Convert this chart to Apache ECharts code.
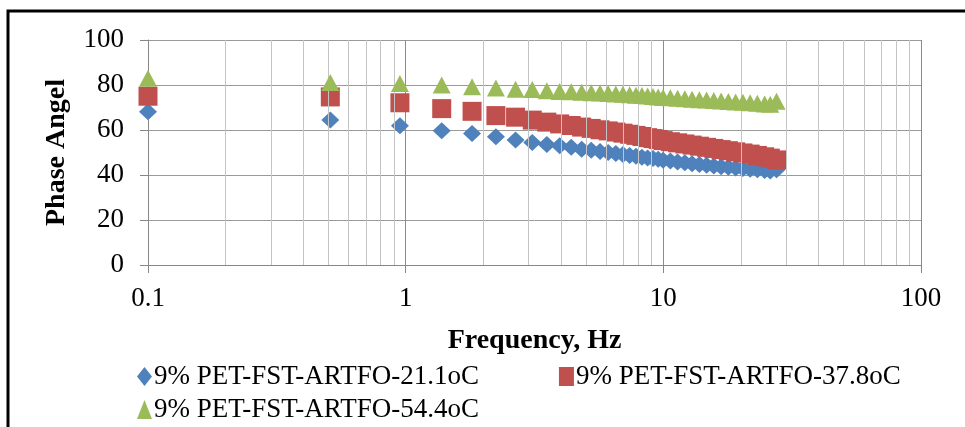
<!DOCTYPE html>
<html><head><meta charset="utf-8">
<script src="https://cdn.jsdelivr.net/npm/echarts@6/dist/echarts.min.js"></script>
<style>html,body{margin:0;padding:0;background:#fff}#c{width:965px;height:427px}</style>
</head><body><div id="c"></div>
<script>
// ---- data ----
const frequencies = [0.1, 0.51, 0.95, 1.38, 1.81, 2.24, 2.67, 3.1, 3.53, 3.96, 4.39, 4.82, 5.25, 5.68, 6.11, 6.54, 6.97, 7.4, 7.83, 8.26, 8.69, 9.12, 9.55, 9.98, 10.65, 11.36, 12.12, 12.93, 13.8, 14.72, 15.7, 16.76, 17.88, 19.08, 20.36, 21.72, 23.17, 24.73, 26.0, 27.5];
const phase21 = [68.1, 64.4, 61.9, 59.7, 58.4, 57.0, 55.6, 54.5, 53.6, 53.0, 52.3, 51.5, 51.0, 50.5, 50.0, 49.6, 49.1, 48.7, 48.3, 47.9, 47.6, 47.3, 47.0, 46.6, 46.2, 45.8, 45.4, 45.0, 44.7, 44.3, 44.0, 43.7, 43.4, 43.1, 42.9, 42.6, 42.3, 42.0, 41.8, 42.3];
const phase37 = [75.0, 74.7, 72.1, 69.5, 68.3, 66.4, 65.7, 64.4, 63.5, 62.7, 62.0, 61.3, 60.7, 60.1, 59.6, 59.1, 58.6, 58.1, 57.6, 57.1, 56.6, 56.2, 55.8, 55.3, 54.8, 54.3, 53.8, 53.3, 52.8, 52.3, 51.8, 51.3, 50.8, 50.3, 49.8, 49.3, 48.7, 48.1, 47.5, 46.7];
const phase54 = [83.0, 81.1, 80.7, 80.0, 79.2, 78.7, 78.1, 78.0, 77.4, 77.1, 77.0, 76.8, 76.6, 76.4, 76.2, 76.0, 75.9, 75.7, 75.5, 75.3, 75.1, 74.9, 74.7, 74.5, 74.3, 74.1, 73.9, 73.7, 73.5, 73.3, 73.1, 72.9, 72.7, 72.5, 72.3, 72.1, 71.9, 71.6, 71.4, 72.8];
const seriesNames = ['9% PET-FST-ARTFO-21.1oC', '9% PET-FST-ARTFO-37.8oC', '9% PET-FST-ARTFO-54.4oC'];
const minorFreqTicks = [0.2, 0.3, 0.4, 0.5, 0.6, 0.7, 0.8, 0.9, 2, 3, 4, 5, 6, 7, 8, 9, 20, 30, 40, 50, 60, 70, 80, 90];
const xTitle = 'Frequency, Hz';
const yTitle = 'Phase Angel';

// ---- chart ----
const font = 'Liberation Serif, Times New Roman, serif';
const chart = echarts.init(document.getElementById('c'), null, {renderer: 'canvas'});
const pairs = arr => frequencies.map((f, i) => [f, arr[i]]);
chart.setOption({
  animation: false,
  backgroundColor: '#fff',
  graphic: [{
    type: 'rect', shape: {x: 8, y: 11, width: 1000, height: 500},
    style: {fill: 'none', stroke: '#000', lineWidth: 3}, z: 100, silent: true
  }],
  grid: {left: 148, right: 44, top: 40, bottom: 162, containLabel: false},
  xAxis: {
    type: 'log', logBase: 10, min: 0.1, max: 100,
    name: xTitle, nameLocation: 'middle', nameGap: 62,
    nameTextStyle: {fontFamily: font, fontSize: 28, fontWeight: 'bold', color: '#000'},
    axisLine: {show: true, lineStyle: {color: '#868686', width: 1}},
    axisTick: {show: true, length: 8, lineStyle: {color: '#868686'}},
    axisLabel: {fontFamily: font, fontSize: 27, color: '#000', margin: 20},
    splitLine: {show: true, lineStyle: {color: '#8c8c8c', width: 1}},
    minorTick: {show: false}, minorSplitLine: {show: false}
  },
  yAxis: {
    type: 'value', min: 0, max: 100, interval: 20,
    name: yTitle, nameLocation: 'middle', nameGap: 77,
    nameTextStyle: {fontFamily: font, fontSize: 28, fontWeight: 'bold', color: '#000'},
    axisLine: {show: true, lineStyle: {color: '#868686', width: 1}},
    axisTick: {show: true, length: 8, lineStyle: {color: '#868686'}},
    axisLabel: {fontFamily: font, fontSize: 27, color: '#000', margin: 24},
    splitLine: {show: true, lineStyle: {color: '#9a9a9a', width: 1}}
  },
  legend: [{
    data: [
      {name: seriesNames[0], icon: 'diamond'},
      {name: seriesNames[1], icon: 'rect'}
    ],
    left: 132, top: 358, itemGap: 80, itemWidth: 15, itemHeight: 19,
    textStyle: {fontFamily: font, fontSize: 27, color: '#000', padding: [0, 0, 0, -3]},
    selectedMode: false
  }, {
    data: [{name: seriesNames[2], icon: 'triangle'}],
    left: 132, top: 391, itemWidth: 15, itemHeight: 19,
    textStyle: {fontFamily: font, fontSize: 27, color: '#000', padding: [0, 0, 0, -3]},
    selectedMode: false
  }],
  series: [
    {
      type: 'scatter', name: '_minor', data: [], silent: true, z: 1,
      markLine: {
        silent: true, symbol: ['none', 'none'], label: {show: false},
        lineStyle: {color: '#c4c4c4', type: 'solid', width: 1},
        emphasis: {disabled: true},
        data: minorFreqTicks.map(v => ({xAxis: v}))
      }
    },
    {type: 'scatter', name: seriesNames[0], data: pairs(phase21), symbol: 'diamond', symbolSize: [18, 17],
     itemStyle: {color: '#4F81BD', opacity: 1}, z: 3},
    {type: 'scatter', name: seriesNames[1], data: pairs(phase37), symbol: 'rect', symbolSize: [19, 19],
     itemStyle: {color: '#C0504D', opacity: 1}, z: 4},
    {type: 'scatter', name: seriesNames[2], data: pairs(phase54), symbol: 'triangle', symbolSize: [18, 17],
     itemStyle: {color: '#9BBB59', opacity: 1}, z: 5}
  ]
});
</script>
</body></html>
